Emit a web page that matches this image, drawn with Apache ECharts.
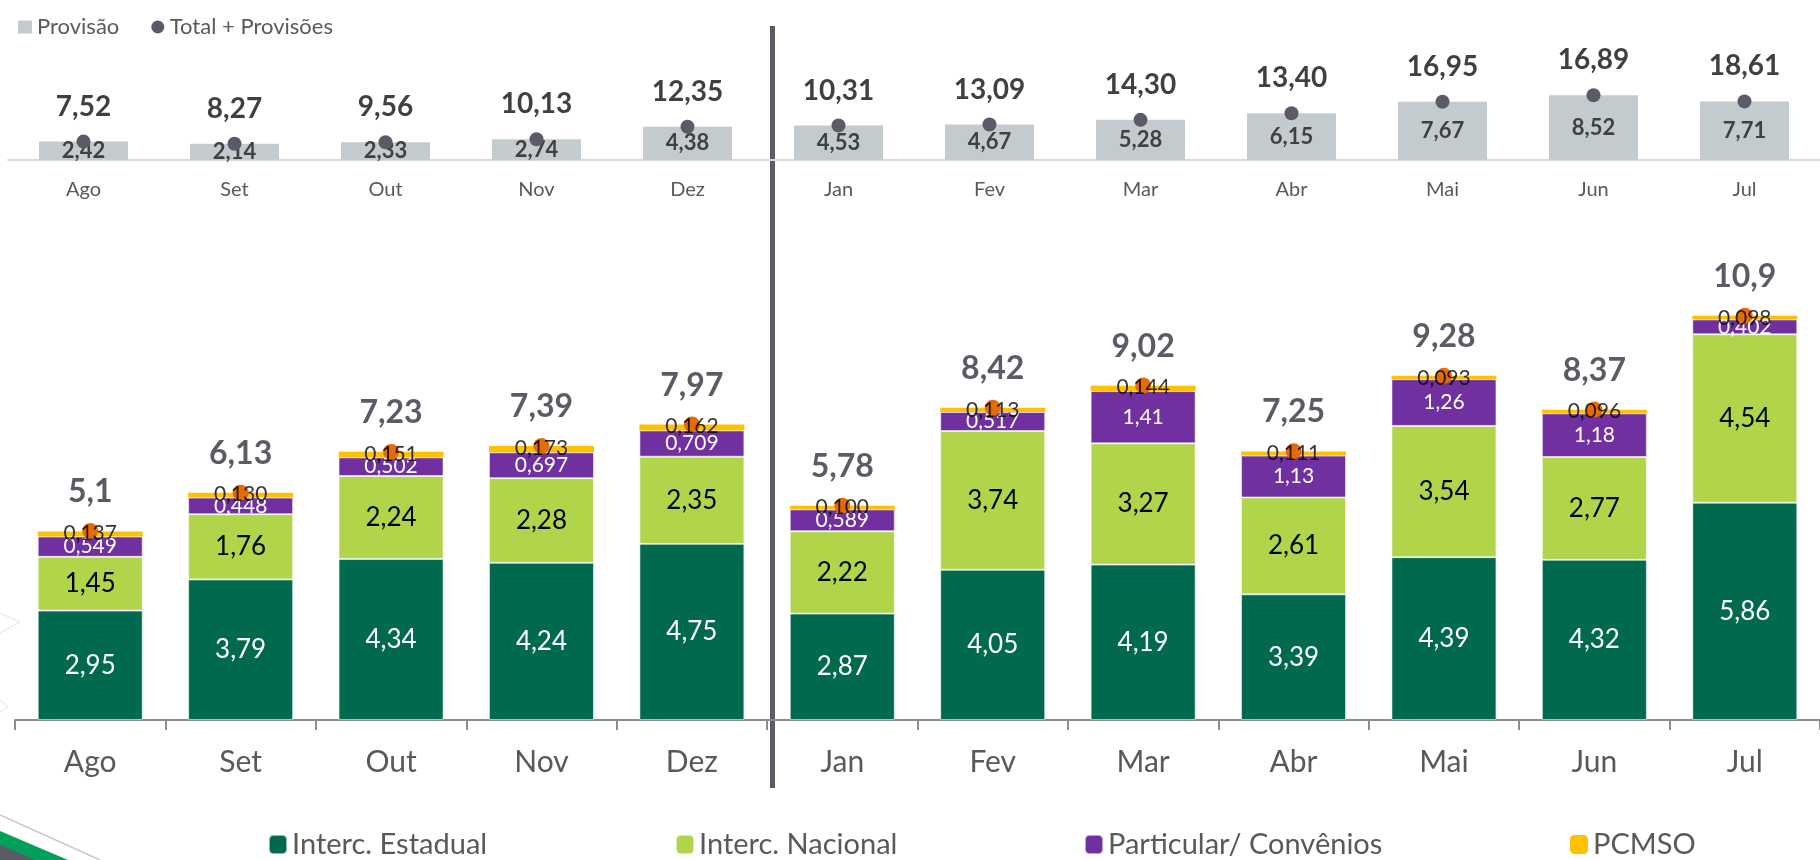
<!DOCTYPE html>
<html>
<head>
<meta charset="utf-8">
<script src="https://cdn.jsdelivr.net/npm/echarts@6/dist/echarts.min.js"></script>
<style>
  html, body { margin: 0; padding: 0; background: #fff; }
  #chart { width: 1820px; height: 860px; }
</style>
</head>
<body>
<div id="chart"></div>
<script>
// meses e valores
const months = ['Ago', 'Set', 'Out', 'Nov', 'Dez', 'Jan', 'Fev', 'Mar', 'Abr', 'Mai', 'Jun', 'Jul'];
const provisao = [2.42, 2.14, 2.33, 2.74, 4.38, 4.53, 4.67, 5.28, 6.15, 7.67, 8.52, 7.71];
const totalProvisoes = [7.52, 8.27, 9.56, 10.13, 12.35, 10.31, 13.09, 14.30, 13.40, 16.95, 16.89, 18.61];
const estadual = [2.95, 3.79, 4.34, 4.24, 4.75, 2.87, 4.05, 4.19, 3.39, 4.39, 4.32, 5.86];
const nacional = [1.45, 1.76, 2.24, 2.28, 2.35, 2.22, 3.74, 3.27, 2.61, 3.54, 2.77, 4.54];
const particular = [0.549, 0.448, 0.502, 0.697, 0.709, 0.589, 0.517, 1.41, 1.13, 1.26, 1.18, 0.402];
const pcmso = [0.137, 0.130, 0.151, 0.173, 0.162, 0.100, 0.113, 0.144, 0.111, 0.093, 0.096, 0.098];
const totais = [5.1, 6.13, 7.23, 7.39, 7.97, 5.78, 8.42, 9.02, 7.25, 9.28, 8.37, 10.9];

const FONT = 'Lato, "Noto Sans", sans-serif';
const comma = v => String(v).replace('.', ',');
const fixed = (v, d) => v.toFixed(d).replace('.', ',');

const chart = echarts.init(document.getElementById('chart'));

const legendText = { color: '#595959', fontSize: 29, fontFamily: FONT };
const bottomLegend = (name, left) => ({
  data: [name],
  left: left,
  top: 825,
  itemWidth: 18,
  itemHeight: 19,
  itemGap: 0,
  selectedMode: false,
  textStyle: legendText,
});

const option = {
  animation: false,
  textStyle: { fontFamily: FONT },
  legend: [
    {
      data: [
        { name: 'Provisão', icon: 'rect' },
        { name: 'Total + Provisões', icon: 'circle' },
      ],
      left: 13,
      top: 11,
      itemWidth: 14,
      itemHeight: 13,
      itemGap: 32,
      selectedMode: false,
      textStyle: { color: '#595959', fontSize: 22, fontFamily: FONT },
    },
    bottomLegend('Interc. Estadual', 263),
    bottomLegend('Interc. Nacional', 670),
    bottomLegend('Particular/ Convênios', 1079),
    bottomLegend('PCMSO', 1565),
  ],
  grid: [
    { left: 8, width: 1814, top: 84, height: 76 },
    { left: 15, width: 1814, top: 275, height: 445 },
  ],
  xAxis: [
    {
      type: 'category',
      gridIndex: 0,
      data: months,
      axisLine: { lineStyle: { color: '#d9d9d9', width: 2 } },
      axisTick: { show: false },
      axisLabel: { color: '#595959', fontSize: 20, margin: 20, fontFamily: FONT },
    },
    {
      type: 'category',
      gridIndex: 1,
      data: months,
      axisLine: { lineStyle: { color: '#8c8c8c', width: 2 } },
      axisTick: { show: true, length: 10, lineStyle: { color: '#8c8c8c', width: 2 } },
      axisLabel: { color: '#595959', fontSize: 30, margin: 27, fontFamily: FONT },
    },
  ],
  yAxis: [
    { type: 'value', gridIndex: 0, min: 0, max: 10, show: false },
    { type: 'value', gridIndex: 1, min: 0, max: 12, show: false },
  ],
  series: [
    {
      name: 'Provisão',
      type: 'bar',
      xAxisIndex: 0,
      yAxisIndex: 0,
      data: provisao,
      barWidth: 89,
      itemStyle: { color: '#c3cbcf' },
      label: {
        show: true,
        position: 'inside',
        color: '#404040',
        fontWeight: 'bold',
        fontSize: 22,
        formatter: p => fixed(p.value, 2),
      },
    },
    {
      name: 'Total + Provisões',
      type: 'scatter',
      xAxisIndex: 0,
      yAxisIndex: 0,
      data: provisao,
      symbolSize: 14,
      z: 3,
      itemStyle: { color: '#5b5b68', opacity: 1 },
      label: {
        show: true,
        position: 'top',
        distance: 14,
        color: '#404040',
        fontWeight: 'bold',
        fontSize: 28,
        formatter: p => fixed(totalProvisoes[p.dataIndex], 2),
      },
    },
    {
      name: 'Interc. Estadual',
      type: 'bar',
      stack: 'total',
      xAxisIndex: 1,
      yAxisIndex: 1,
      data: estadual,
      barWidth: 105,
      itemStyle: { color: '#00694e', borderColor: 'rgba(255,255,255,0.55)', borderWidth: 1 },
      label: { show: true, position: 'inside', color: '#ffffff', fontSize: 26, formatter: p => comma(p.value) },
    },
    {
      name: 'Interc. Nacional',
      type: 'bar',
      stack: 'total',
      xAxisIndex: 1,
      yAxisIndex: 1,
      data: nacional,
      itemStyle: { color: '#b0d44a', borderColor: 'rgba(255,255,255,0.55)', borderWidth: 1 },
      label: { show: true, position: 'inside', color: '#000000', fontSize: 26, formatter: p => comma(p.value) },
    },
    {
      name: 'Particular/ Convênios',
      type: 'bar',
      stack: 'total',
      xAxisIndex: 1,
      yAxisIndex: 1,
      data: particular,
      itemStyle: { color: '#7030a0', borderColor: 'rgba(255,255,255,0.55)', borderWidth: 1 },
      label: { show: true, position: 'inside', color: '#ffffff', fontSize: 21, formatter: p => comma(p.value) },
    },
    {
      name: 'PCMSO',
      type: 'bar',
      stack: 'total',
      xAxisIndex: 1,
      yAxisIndex: 1,
      data: pcmso,
      itemStyle: { color: '#ffc000' },
    },
    {
      name: 'Total',
      type: 'scatter',
      xAxisIndex: 1,
      yAxisIndex: 1,
      data: totais,
      symbolSize: 16,
      z: 3,
      itemStyle: { color: '#e36c0a', opacity: 1 },
      label: {
        show: true,
        position: 'top',
        distance: 15,
        color: '#5b5b66',
        fontWeight: 'bold',
        fontSize: 32,
        formatter: p => comma(p.value),
      },
    },
    {
      // rótulos do PCMSO por cima das bolinhas
      name: 'PCMSO rótulo',
      type: 'scatter',
      xAxisIndex: 1,
      yAxisIndex: 1,
      data: totais,
      symbolSize: 1,
      z: 4,
      itemStyle: { color: 'rgba(0,0,0,0)' },
      label: {
        show: true,
        position: 'inside',
        offset: [0, 2],
        color: '#000000',
        fontSize: 21,
        formatter: p => fixed(pcmso[p.dataIndex], 3),
      },
    },
  ],
  graphic: [
    { type: 'rect', shape: { x: 770, y: 26, width: 5, height: 762 }, style: { fill: '#5b5b66' } },
    // enfeite do slide no canto inferior esquerdo
    { type: 'polyline', shape: { points: [[0, 613], [20, 622], [0, 633]] }, style: { stroke: '#e3e3e3', lineWidth: 1, fill: 'none' } },
    { type: 'polyline', shape: { points: [[0, 700], [8, 707], [0, 712]] }, style: { stroke: '#e3e3e3', lineWidth: 1, fill: 'none' } },
    { type: 'line', shape: { x1: 0, y1: 815, x2: 100, y2: 860 }, style: { stroke: '#c8c8c8', lineWidth: 1.5 } },
    { type: 'polygon', shape: { points: [[0, 831], [68, 860], [0, 860]] }, style: { fill: '#00a05a' } },
    { type: 'polygon', shape: { points: [[0, 845], [36, 860], [0, 860]] }, style: { fill: '#5b5b66' } },
  ],
};

chart.setOption(option);
</script>
</body>
</html>
